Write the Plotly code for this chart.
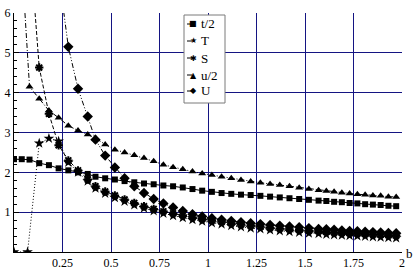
import plotly.graph_objects as go

# ---------------- data ----------------
grid_b = [0.13, 0.18, 0.23, 0.28, 0.33, 0.38, 0.42, 0.47, 0.52, 0.57, 0.62, 0.67, 0.72, 0.77,
          0.82, 0.87, 0.92, 0.97, 1.02, 1.07, 1.12, 1.17, 1.22, 1.27, 1.32, 1.37, 1.42, 1.47,
          1.52, 1.57, 1.61, 1.65, 1.69, 1.73, 1.77, 1.81, 1.85, 1.89, 1.93, 1.97]

t_half_x = [0.0, 0.04, 0.08] + grid_b
t_half_y = [2.33, 2.33, 2.32,
            2.23, 2.18, 2.10, 2.05, 2.00, 1.96, 1.89, 1.85, 1.82, 1.78, 1.75, 1.72, 1.70, 1.67,
            1.65, 1.62, 1.58, 1.54, 1.51, 1.48, 1.46, 1.44, 1.43, 1.41, 1.39, 1.37, 1.35, 1.33,
            1.31, 1.29, 1.28, 1.26, 1.25, 1.23, 1.22, 1.20, 1.19, 1.18, 1.16, 1.15]

T_x = [0.0, 0.07] + grid_b
T_y = [0.0, 0.0,
       2.73, 2.85, 2.78, 2.25, 2.00, 1.78, 1.60, 1.47, 1.36, 1.27, 1.18, 1.10, 1.03, 0.97,
       0.91, 0.86, 0.81, 0.77, 0.73, 0.70, 0.66, 0.63, 0.60, 0.58, 0.55, 0.53, 0.51, 0.49,
       0.47, 0.46, 0.44, 0.43, 0.42, 0.41, 0.40, 0.39, 0.38, 0.37, 0.36, 0.35]

S_x = [0.09] + grid_b
S_y = [7.2,
       4.63, 3.47, 2.68, 2.30, 2.05, 1.82, 1.65, 1.52, 1.42, 1.32, 1.23, 1.15, 1.08, 1.02,
       0.97, 0.92, 0.87, 0.83, 0.79, 0.76, 0.72, 0.69, 0.66, 0.64, 0.61, 0.59, 0.57, 0.55,
       0.53, 0.52, 0.50, 0.49, 0.48, 0.47, 0.46, 0.45, 0.44, 0.43, 0.42, 0.41]

u_half_x = [0.05, 0.08] + grid_b
u_half_y = [6.5, 4.15,
            3.85, 3.55, 3.37, 3.17, 3.05, 2.95, 2.86, 2.70, 2.57, 2.50, 2.43, 2.36, 2.28, 2.19,
            2.13, 2.08, 2.02, 1.97, 1.93, 1.89, 1.85, 1.81, 1.77, 1.74, 1.71, 1.68, 1.65, 1.61,
            1.58, 1.55, 1.53, 1.51, 1.49, 1.47, 1.45, 1.44, 1.42, 1.41, 1.39, 1.38]

U_x = [0.23] + grid_b[3:]
U_y = [7.0,
       5.15, 4.10, 3.40, 2.82, 2.42, 2.12, 1.85, 1.65, 1.48, 1.33, 1.22, 1.12, 1.03, 0.95,
       0.89, 0.85, 0.81, 0.78, 0.75, 0.72, 0.70, 0.68, 0.66, 0.64, 0.62, 0.60, 0.58, 0.57,
       0.56, 0.54, 0.53, 0.52, 0.51, 0.50, 0.49, 0.48, 0.47]

x_ticks = [0.25, 0.5, 0.75, 1, 1.25, 1.5, 1.75, 2]
x_tick_text = ["0.25", "0.5", "0.75", "1", "1.25", "1.5", "1.75", "2"]
y_ticks = [1, 2, 3, 4, 5, 6]
y_tick_text = ["1", "2", "3", "4", "5", "6"]

legend_names = ["t/2", "T", "S", "u/2", "U"]
legend_glyphs = ["\u25A0", "\u2605", "\u2731", "\u25B2", "\u25C6"]

# ---------------- figure ----------------
W, H = 415, 275
L, R, T_, B = 14, 13, 13, 23
PW, PH = W - L - R, H - T_ - B

def px(xp):
    return (xp - L) / PW

def py(yp):
    return (H - B - yp) / PH

fig = go.Figure()

series = [
    (t_half_x, t_half_y, "t/2", "square", 6, "solid", 0),
    (T_x, T_y, "T", "star", 8, "1px,2px", 0),
    (S_x, S_y, "S", "asterisk-open", 7, "4px,2px", 2),
    (u_half_x, u_half_y, "u/2", "triangle-up", 7, "5px,2px,1px,2px", 0),
    (U_x, U_y, "U", "diamond", 8, "5px,2px,1px,2px,1px,2px", 0),
]
for xs, ys, name, sym, size, dash, lw in series:
    fig.add_trace(go.Scatter(
        x=xs, y=ys, name=name, mode="lines+markers",
        line=dict(color="black", width=1, dash=dash),
        marker=dict(symbol=sym, size=size, color="black",
                    line=dict(color="black", width=lw)),
        showlegend=False,
    ))

font_serif = "Liberation Serif"

fig.update_layout(
    width=W, height=H,
    margin=dict(l=L, r=R, t=T_, b=B, pad=0, autoexpand=False),
    paper_bgcolor="white", plot_bgcolor="white",
    font=dict(family=font_serif, size=12, color="black"),
    xaxis=dict(range=[0, 2], tickvals=x_ticks, ticktext=x_tick_text, automargin=False,
               showgrid=True, gridcolor="#141482", gridwidth=1,
               zeroline=False, showline=True, linecolor="black", linewidth=1,
               ticks="", tickfont=dict(size=12, family=font_serif)),
    yaxis=dict(range=[0, 6], tickvals=y_ticks, ticktext=y_tick_text, automargin=False,
               showgrid=True, gridcolor="#141482", gridwidth=1,
               zeroline=False, showline=True, linecolor="black", linewidth=1,
               ticks="inside", ticklen=5, tickcolor="black",
               minor=dict(dtick=0.2, ticks="inside", ticklen=3, tickcolor="black", showgrid=False),
               tickfont=dict(size=12, family=font_serif)),
)

# axis label "b"
fig.add_annotation(x=px(409), y=py(254), xref="paper", yref="paper", text="b",
                   showarrow=False, font=dict(size=13, family=font_serif),
                   xanchor="center", yanchor="middle")

# custom legend box
fig.add_shape(type="rect", xref="paper", yref="paper",
              x0=px(184), x1=px(225), y0=py(103), y1=py(15),
              line=dict(color="#7a7a7a", width=1), fillcolor="white", layer="above")
entry_y = [24, 41, 58, 75, 91]
for name, glyph, yy in zip(legend_names, legend_glyphs, entry_y):
    fig.add_shape(type="line", xref="paper", yref="paper",
                  x0=px(187), x1=px(192), y0=py(yy), y1=py(yy),
                  line=dict(color="black", width=1), layer="above")
    fig.add_annotation(x=px(193), y=py(yy), xref="paper", yref="paper", text=glyph,
                       showarrow=False, font=dict(size=8, family="DejaVu Sans", color="black"),
                       xanchor="center", yanchor="middle")
    fig.add_annotation(x=px(199), y=py(yy), xref="paper", yref="paper", text=name,
                       showarrow=False, font=dict(size=13, family=font_serif, color="black"),
                       xanchor="left", yanchor="middle")

fig.write_html("out.html")
